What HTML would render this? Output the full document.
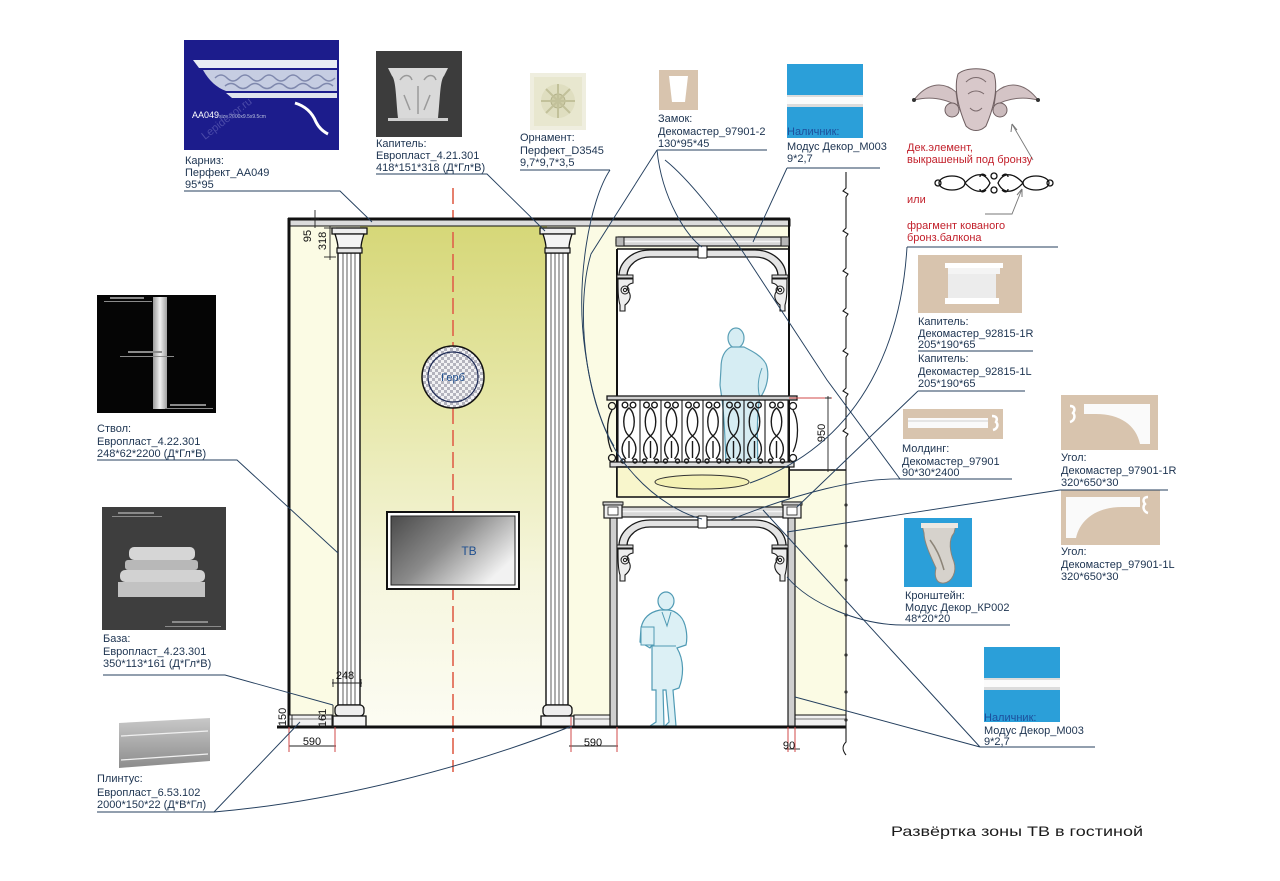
<!DOCTYPE html>
<html><head><meta charset="utf-8">
<style>
html,body{margin:0;padding:0;background:#fff;}
svg{display:block;}
.l{font-family:"Liberation Sans",Arial,sans-serif;font-size:11px;fill:#1c3350;}
.r{font-family:"Liberation Sans",Arial,sans-serif;font-size:11px;fill:#c21f2a;}
.d{font-family:"Liberation Sans",Arial,sans-serif;font-size:11px;fill:#111;}
.k{stroke:#1a1a1a;fill:none;}
.c{stroke:#243f5e;stroke-width:0.95;fill:none;}
</style></head>
<body>
<svg width="1280" height="881" viewBox="0 0 1280 881" xmlns="http://www.w3.org/2000/svg">
<defs>
 <linearGradient id="yg" x1="0" y1="0" x2="0" y2="1">
  <stop offset="0" stop-color="#d6d778"/>
  <stop offset="0.35" stop-color="#e6e7a8"/>
  <stop offset="0.7" stop-color="#f6f6de"/>
  <stop offset="1" stop-color="#fcfcf3"/>
 </linearGradient>
 <linearGradient id="tv" x1="0" y1="0" x2="1" y2="0.6">
  <stop offset="0" stop-color="#4a4a4a"/>
  <stop offset="0.5" stop-color="#8a8a8a"/>
  <stop offset="1" stop-color="#f2f2f2"/>
 </linearGradient>
 <linearGradient id="sh" x1="0" y1="0" x2="1" y2="0">
  <stop offset="0" stop-color="#9a9a9a"/>
  <stop offset="0.5" stop-color="#f0f0f0"/>
  <stop offset="1" stop-color="#a0a0a0"/>
 </linearGradient>
 <linearGradient id="pl" x1="0" y1="0" x2="0" y2="1">
  <stop offset="0" stop-color="#c8c8c8"/>
  <stop offset="1" stop-color="#8c8c8c"/>
 </linearGradient>
 <pattern id="chk" width="6" height="6" patternUnits="userSpaceOnUse">
  <rect width="6" height="6" fill="#f2f2f4"/>
  <rect width="3" height="3" fill="#b4b4be"/>
  <rect x="3" y="3" width="3" height="3" fill="#b4b4be"/>
 </pattern>
 <g id="col">
  <rect x="6" y="253" width="22" height="452" fill="#fff" stroke="#111" stroke-width="1.4"/>
  <line x1="11" y1="253" x2="11" y2="705" stroke="#333" stroke-width="0.8"/>
  <line x1="15" y1="253" x2="15" y2="705" stroke="#333" stroke-width="0.8"/>
  <line x1="19" y1="253" x2="19" y2="705" stroke="#333" stroke-width="0.8"/>
  <line x1="23" y1="253" x2="23" y2="705" stroke="#333" stroke-width="0.8"/>
  <rect x="0" y="228" width="35" height="6" fill="#eee" stroke="#111" stroke-width="1.3"/>
  <path d="M3,234 L32,234 C30,240 29,244 29,248 L6,248 C6,244 5,240 3,234 Z" fill="#f4f4f4" stroke="#111" stroke-width="1.3"/>
  <rect x="5" y="248" width="25" height="5" fill="#e6e6e6" stroke="#111" stroke-width="1.2"/>
  <rect x="3" y="705" width="29" height="11" rx="4" fill="#eee" stroke="#111" stroke-width="1.3"/>
  <rect x="1" y="716" width="33" height="11" fill="#f4f4f4" stroke="#111" stroke-width="1.3"/>
 </g>
 <g id="arch">
  <path d="M619,276 A31 26 0 0 1 650,250 L755,250 A31 26 0 0 1 786,276 L778,276 A23 19 0 0 0 755,257 L650,257 A23 19 0 0 0 627,276 Z" fill="#e4e4e4" stroke="#1a1a1a" stroke-width="1.3"/>
  <rect x="617" y="275" width="16" height="3" fill="#ddd" stroke="#1a1a1a" stroke-width="1"/>
  <rect x="772" y="275" width="16" height="3" fill="#ddd" stroke="#1a1a1a" stroke-width="1"/>
  <g transform="translate(617,277)">
   <path d="M1,2 L16,2 L16,6 C10,7 9,11 12,15 C15,20 12,25 8,28 L8,34 L3,34 L3,28 C1,22 1,12 1,2 Z" fill="#eee" stroke="#1a1a1a" stroke-width="1.1"/>
   <circle cx="8" cy="13" r="4" fill="none" stroke="#1a1a1a"/>
   <circle cx="8" cy="13" r="1.6" fill="none" stroke="#1a1a1a"/>
  </g>
  <g transform="translate(788,277) scale(-1,1)">
   <path d="M1,2 L16,2 L16,6 C10,7 9,11 12,15 C15,20 12,25 8,28 L8,34 L3,34 L3,28 C1,22 1,12 1,2 Z" fill="#eee" stroke="#1a1a1a" stroke-width="1.1"/>
   <circle cx="8" cy="13" r="4" fill="none" stroke="#1a1a1a"/>
   <circle cx="8" cy="13" r="1.6" fill="none" stroke="#1a1a1a"/>
  </g>
  <rect x="698" y="246" width="9" height="12" rx="1" fill="#fff" stroke="#1a1a1a" stroke-width="1.1"/>
 </g>
 <g id="bal" fill="none" stroke="#1a1a1a" stroke-width="1.4">
  <circle cx="-4" cy="405" r="2.8"/><circle cx="4" cy="405" r="2.8"/>
  <path d="M0,408 C-7,413 -7,430 0,436 C7,430 7,413 0,408 Z"/>
  <path d="M0,436 C-8,442 -9,452 -3,459 M0,436 C8,442 9,452 3,459 M0,441 L0,458"/>
  <circle cx="-6" cy="461" r="2"/><circle cx="6" cy="461" r="2"/>
 </g>
</defs>

<rect width="1280" height="881" fill="#fff"/>

<!-- WALL BACKGROUNDS -->
<rect x="289" y="219" width="328" height="508" fill="#fbfbe4"/>
<rect x="360" y="226" width="187" height="501" fill="url(#yg)"/>
<rect x="612" y="226" width="178" height="23" fill="#fbfbe4"/>
<rect x="617" y="249" width="171" height="218" fill="#fff"/>
<rect x="617" y="497" width="171" height="10" fill="#fbfbe4"/>
<rect x="788" y="470" width="58" height="257" fill="#fbfbe4"/>
<rect x="618" y="518" width="170" height="209" fill="#fff"/>

<line x1="453" y1="188" x2="453" y2="772" stroke="#e0604a" stroke-width="1.6" stroke-dasharray="16 6"/>

<rect x="289" y="219" width="501" height="7" fill="#dcdcdc" stroke="#111" stroke-width="1"/>
<line x1="288" y1="219" x2="790" y2="219" stroke="#111" stroke-width="3"/>
<line x1="289" y1="218" x2="289" y2="728" stroke="#111" stroke-width="3"/>

<use href="#col" transform="translate(332,0)"/>
<use href="#col" transform="translate(540,0)"/>

<circle cx="453" cy="377" r="31" fill="url(#chk)" stroke="#111" stroke-width="1.5"/>
<circle cx="453" cy="377" r="25" fill="none" stroke="#1d2a55" stroke-width="1.2"/>
<text x="453" y="381" text-anchor="middle" class="l" style="fill:#1f4f8f">Герб</text>

<rect x="387" y="512" width="132" height="77" fill="#fff" stroke="#111" stroke-width="2"/>
<rect x="391" y="516" width="124" height="69" fill="url(#tv)" stroke="#222" stroke-width="1"/>
<text x="469" y="555" text-anchor="middle" class="l" style="fill:#1f4f8f;font-size:12px">ТВ</text>

<rect x="289" y="715" width="43" height="12" fill="#f0f0f0" stroke="#111" stroke-width="1"/>
<line x1="289" y1="719" x2="332" y2="719" stroke="#555" stroke-width="0.7"/>
<rect x="574" y="715" width="36" height="12" fill="#f0f0f0" stroke="#111" stroke-width="1"/>
<line x1="574" y1="719" x2="610" y2="719" stroke="#555" stroke-width="0.7"/>
<rect x="795" y="715" width="51" height="12" fill="#f0f0f0" stroke="#111" stroke-width="1"/>
<line x1="795" y1="719" x2="846" y2="719" stroke="#555" stroke-width="0.7"/>

<!-- BALCONY -->
<line x1="789" y1="219" x2="789" y2="497" stroke="#111" stroke-width="2"/>
<line x1="617" y1="249" x2="617" y2="497" stroke="#111" stroke-width="2"/>
<line x1="617" y1="249" x2="789" y2="249" stroke="#111" stroke-width="1.5"/>
<rect x="616" y="237" width="173" height="9" rx="2" fill="#d6d6d6" stroke="#1a1a1a" stroke-width="1.2"/>
<line x1="620" y1="241.5" x2="785" y2="241.5" stroke="#f4f4f4" stroke-width="1.5"/>
<rect x="616" y="237" width="8" height="9" fill="#b8b8b8" stroke="#1a1a1a" stroke-width="1"/>
<rect x="781" y="237" width="8" height="9" fill="#b8b8b8" stroke="#1a1a1a" stroke-width="1"/>
<use href="#arch"/>

<ellipse cx="736" cy="338" rx="8" ry="10" fill="#d6edf3" stroke="#5a9fb6" stroke-width="1.2"/>
<path d="M731,347 C725,350 721,356 721,368 L720,385 C721,395 724,400 726,467 L758,467 C757,430 757,410 760,398 C767,388 770,375 766,364 C762,356 752,351 744,347 Z" fill="#d6edf3" stroke="#5a9fb6" stroke-width="1.2"/>
<path d="M762,368 C758,378 757,388 760,398" fill="none" stroke="#5a9fb6" stroke-width="1"/>

<rect x="607" y="396" width="190" height="4" fill="#cfcfcf" stroke="#1a1a1a" stroke-width="1.3"/>
<rect x="610" y="462" width="184" height="5" fill="#dcdcdc" stroke="#1a1a1a" stroke-width="1.2"/>
<g stroke="#1a1a1a" stroke-width="1.1">
 <line x1="618" y1="400" x2="618" y2="462"/><line x1="640" y1="400" x2="640" y2="462"/>
 <line x1="661" y1="400" x2="661" y2="462"/><line x1="682" y1="400" x2="682" y2="462"/>
 <line x1="703" y1="400" x2="703" y2="462"/><line x1="723" y1="400" x2="723" y2="462"/>
 <line x1="744" y1="400" x2="744" y2="462"/><line x1="765" y1="400" x2="765" y2="462"/>
 <line x1="788" y1="400" x2="788" y2="462"/>
</g>
<use href="#bal" transform="translate(629,0)"/>
<use href="#bal" transform="translate(650.5,0)"/>
<use href="#bal" transform="translate(671.5,0)"/>
<use href="#bal" transform="translate(692.5,0)"/>
<use href="#bal" transform="translate(713,0)"/>
<use href="#bal" transform="translate(733.5,0)"/>
<use href="#bal" transform="translate(754.5,0)"/>
<use href="#bal" transform="translate(776.5,0)"/>
<g fill="none" stroke="#1a1a1a" stroke-width="1.3">
 <circle cx="612" cy="406" r="3.5"/><path d="M612,410 C606,420 606,440 612,452"/><circle cx="612" cy="458" r="3.5"/>
 <circle cx="793" cy="406" r="3.5"/><path d="M793,410 C799,420 799,440 793,452"/><circle cx="793" cy="458" r="3.5"/>
</g>

<rect x="617" y="467" width="172" height="30" fill="#f8f6cc" stroke="#1a1a1a" stroke-width="1.6"/>
<ellipse cx="702" cy="482" rx="47" ry="7" fill="#f4f1b4" stroke="#333" stroke-width="1"/>
<line x1="789" y1="470" x2="846" y2="470" stroke="#111" stroke-width="1.6"/>

<line x1="789" y1="398" x2="832" y2="398" stroke="#d24a4a" stroke-width="1"/>
<line x1="828" y1="396" x2="828" y2="472" stroke="#222" stroke-width="0.9"/>
<line x1="825" y1="398" x2="831" y2="398" stroke="#222"/>
<line x1="825" y1="470" x2="831" y2="470" stroke="#222"/>
<text transform="translate(825,433) rotate(-90)" text-anchor="middle" class="d">950</text>

<!-- LOWER DOORWAY -->
<rect x="610" y="517" width="7" height="210" fill="#cfcfcf" stroke="#1a1a1a" stroke-width="1.2"/>
<rect x="788" y="517" width="7" height="210" fill="#cfcfcf" stroke="#1a1a1a" stroke-width="1.2"/>
<rect x="617" y="507" width="171" height="10" fill="#d8d8d8" stroke="#1a1a1a" stroke-width="1.2"/>
<line x1="620" y1="511.5" x2="785" y2="511.5" stroke="#f4f4f4" stroke-width="1.5"/>
<rect x="604" y="502" width="18" height="16" fill="#efefef" stroke="#1a1a1a" stroke-width="1.2"/>
<rect x="603" y="502" width="20" height="3" fill="#d0d0d0" stroke="#1a1a1a" stroke-width="1"/>
<rect x="608" y="507" width="10" height="8" fill="#fff" stroke="#1a1a1a" stroke-width="0.8"/>
<rect x="783" y="502" width="18" height="16" fill="#efefef" stroke="#1a1a1a" stroke-width="1.2"/>
<rect x="782" y="502" width="20" height="3" fill="#d0d0d0" stroke="#1a1a1a" stroke-width="1"/>
<rect x="787" y="507" width="10" height="8" fill="#fff" stroke="#1a1a1a" stroke-width="0.8"/>
<use href="#arch" transform="translate(0,270)"/>

<ellipse cx="666" cy="601" rx="8" ry="9" fill="#dcf0f5" stroke="#4f9ab4" stroke-width="1.2"/>
<path d="M660,610 C650,612 643,618 641,628 L640,642 L650,648 L652,645 L652,690 L656,690 L656,722 L650,726 L664,726 L663,690 L666,690 L669,722 L665,726 L676,726 L673,690 L679,688 C684,675 684,660 677,648 L686,645 C688,636 686,622 680,616 C676,612 672,610 668,610 Z" fill="#dcf0f5" stroke="#4f9ab4" stroke-width="1.2"/>
<rect x="641" y="627" width="13" height="18" fill="#dcf0f5" stroke="#4f9ab4" stroke-width="1"/>
<path d="M662,612 L667,626 L671,612 M652,646 L676,646" fill="none" stroke="#4f9ab4" stroke-width="1"/>

<line x1="277" y1="727" x2="846" y2="727" stroke="#111" stroke-width="3"/>

<path d="M846,172 L846,188 l-3,3 l5,3 l-2,3 L846,228 l-3,3 l5,3 l-2,3 L846,268 l-3,3 l5,3 l-2,3 L846,308 l-3,3 l5,3 l-2,3 L846,348 l-3,3 l5,3 l-2,3 L846,388 l-3,3 l5,3 l-2,3 L846,428 l-3,3 l5,3 l-2,3 L846,742 C842,746 842,750 846,755" fill="none" stroke="#1a1a1a" stroke-width="1.1"/>
<g fill="#333"><circle cx="846" cy="505" r="1.6"/><circle cx="846" cy="546" r="1.6"/><circle cx="846" cy="580" r="1.6"/><circle cx="846" cy="615" r="1.6"/><circle cx="846" cy="655" r="1.6"/><circle cx="846" cy="692" r="1.6"/><circle cx="846" cy="720" r="1.6"/></g>

<!-- DIMENSIONS -->
<g stroke="#222" stroke-width="0.9" fill="none">
 <line x1="315" y1="210" x2="315" y2="228"/><line x1="311" y1="219" x2="319" y2="219"/>
 <line x1="330" y1="226" x2="330" y2="260"/><line x1="324" y1="228" x2="336" y2="228"/><line x1="324" y1="257" x2="336" y2="257"/>
 <line x1="332" y1="683" x2="362" y2="683"/><line x1="333" y1="679" x2="333" y2="687"/><line x1="361" y1="679" x2="361" y2="687"/>
 <line x1="292" y1="715" x2="292" y2="727"/>
 <line x1="333" y1="705" x2="333" y2="727"/>
 <line x1="289" y1="746" x2="336" y2="746"/>
 <line x1="569" y1="746" x2="618" y2="746"/>
 <line x1="785" y1="749" x2="800" y2="749"/>
</g>
<g stroke="#d24a4a" stroke-width="1">
 <line x1="289" y1="727" x2="289" y2="752"/><line x1="335" y1="727" x2="335" y2="752"/>
 <line x1="571" y1="717" x2="571" y2="752"/><line x1="617" y1="727" x2="617" y2="752"/>
 <line x1="788" y1="727" x2="788" y2="752"/><line x1="795" y1="727" x2="795" y2="752"/>
</g>
<text transform="translate(311,236) rotate(-90)" text-anchor="middle" class="d">95</text>
<text transform="translate(326,241) rotate(-90)" text-anchor="middle" class="d">318</text>
<text x="345" y="679" text-anchor="middle" class="d">248</text>
<text transform="translate(286,717) rotate(-90)" text-anchor="middle" class="d">150</text>
<text transform="translate(326,718) rotate(-90)" text-anchor="middle" class="d">161</text>
<text x="312" y="745" text-anchor="middle" class="d">590</text>
<text x="593" y="746" text-anchor="middle" class="d">590</text>
<text x="789" y="749" text-anchor="middle" class="d">90</text>

<!-- PRODUCT IMAGES -->
<rect x="184" y="40" width="155" height="110" fill="#1c1c8c"/>
<polygon points="193,60 337,60 337,68 199,68" fill="#e8ecf4"/>
<path d="M203,70 L337,70 L337,91 L226,91 Q212,86 203,70 Z" fill="#c6cde2"/>
<path d="M215,78 q6,-6 12,0 t12,0 t12,0 t12,0 t12,0 t12,0 t12,0 t12,0 t12,0 t12,0 M225,86 q6,-5 12,0 t12,0 t12,0 t12,0 t12,0 t12,0 t12,0 t12,0 t12,0" fill="none" stroke="#7f88ad" stroke-width="1.5"/>
<polygon points="226,93 337,93 337,98 232,98" fill="#e0e4ee"/>
<path d="M295,103 C305,106 312,112 316,122 C319,128 324,132 328,134" fill="none" stroke="#fff" stroke-width="3"/>
<text x="192" y="118" style="font-family:'Liberation Sans',sans-serif;font-size:9px;fill:#fff">AA049</text>
<text x="219" y="118" style="font-family:'Liberation Sans',sans-serif;font-size:5px;fill:#b8c0dc">size 2000x9.5x9.5cm</text>
<text transform="translate(205,140) rotate(-38)" style="font-family:'Liberation Sans',sans-serif;font-size:11px;fill:#4a4aa8">Lepidecor.ru</text>

<rect x="376" y="51" width="86" height="86" fill="#3c3c3c"/>
<path d="M388,68 L448,68 L444,76 C440,80 440,100 438,118 L398,118 C396,100 396,80 392,76 Z" fill="#d9d9d9"/>
<path d="M400,80 c4,-6 10,-6 12,0 M424,80 c4,-6 10,-6 12,0 M404,95 l6,15 M430,95 l-6,15 M418,86 l0,28" fill="none" stroke="#9a9a9a" stroke-width="1.5"/>
<rect x="388" y="118" width="60" height="3" fill="#cfcfcf"/>

<rect x="530" y="73" width="56" height="57" fill="#efeedf"/>
<rect x="534" y="77" width="48" height="49" fill="#e8e7cf"/>
<circle cx="558" cy="101" r="17" fill="#dfdec0"/>
<circle cx="558" cy="101" r="7" fill="#cdcca6" stroke="#b2b18a"/>
<path d="M558,84 l0,34 M541,101 l34,0 M546,89 l24,24 M570,89 l-24,24" stroke="#c2c19a" stroke-width="2"/>

<rect x="659" y="70" width="39" height="40" fill="#d8c4ae"/>
<path d="M669,76 L688,76 L685,102 L672,102 Z" fill="#fff"/>

<rect x="787" y="64" width="76" height="74" fill="#2b9fd9"/>
<rect x="787" y="95" width="76" height="12" fill="#dcdcdc"/>
<rect x="787" y="97" width="76" height="7" fill="#fbfbfb"/>

<g transform="translate(976,100)">
 <path d="M-20,-8 C-34,-20 -50,-16 -62,0 C-46,-4 -32,-2 -18,6 Z" fill="#d4c4c6" stroke="#7a6a6c"/>
 <path d="M20,-8 C34,-20 50,-16 62,0 C46,-4 32,-2 18,6 Z" fill="#d4c4c6" stroke="#7a6a6c"/>
 <path d="M-18,-26 C-10,-33 10,-33 18,-26 C23,-10 16,12 10,26 C4,32 -4,32 -10,26 C-16,12 -23,-10 -18,-26 Z" fill="#d8c8ca" stroke="#6e5e60"/>
 <circle cx="-24" cy="10" r="7" fill="#cbbbbd" stroke="#6e5e60"/>
 <circle cx="24" cy="10" r="7" fill="#cbbbbd" stroke="#6e5e60"/>
 <path d="M-10,-18 C-4,-24 4,-24 10,-18 M-8,-6 C-3,-10 3,-10 8,-6 M-6,8 C-2,12 2,12 6,8" fill="none" stroke="#7a6a6c"/>
 <circle cx="-62" cy="0" r="2" fill="#333"/><circle cx="62" cy="0" r="2" fill="#333"/>
</g>
<path d="M1033,160 L1012,124" fill="none" stroke="#777" stroke-width="0.9"/>
<path d="M1012,124 L1011,132 M1012,124 L1017,130" fill="none" stroke="#777" stroke-width="1"/>

<g fill="none" stroke="#111" stroke-width="1.3">
 <ellipse cx="952" cy="183" rx="13" ry="7"/><ellipse cx="1036" cy="183" rx="13" ry="7"/>
 <circle cx="938" cy="183" r="3"/><circle cx="1050" cy="183" r="3"/>
 <path d="M965,183 C975,172 985,172 990,183 C985,194 975,194 965,183 Z"/>
 <path d="M1023,183 C1013,172 1003,172 998,183 C1003,194 1013,194 1023,183 Z"/>
 <circle cx="994" cy="176" r="3"/><circle cx="994" cy="190" r="3"/>
 <path d="M986,176 c-3,-3 -6,-2 -6,1 M1002,176 c3,-3 6,-2 6,1 M986,190 c-3,3 -6,2 -6,-1 M1002,190 c3,3 6,2 6,-1"/>
</g>
<path d="M985,214 L1012,214 L1022,189" fill="none" stroke="#777" stroke-width="0.9"/>
<path d="M1022,189 L1017,195 M1022,189 L1022,197" fill="none" stroke="#777" stroke-width="1"/>

<rect x="918" y="255" width="104" height="58" fill="#d8c4ae"/>
<rect x="945" y="263" width="58" height="5" fill="#fff"/>
<rect x="948" y="268" width="52" height="6" fill="#f4f4f4"/>
<rect x="948" y="274" width="48" height="24" fill="#ececec"/>
<rect x="945" y="298" width="54" height="6" fill="#fff"/>

<rect x="903" y="409" width="100" height="30" fill="#d8c4ae"/>
<rect x="908" y="418" width="80" height="10" fill="#fafafa"/>
<line x1="908" y1="421" x2="988" y2="421" stroke="#d0d0d0"/>
<path d="M992,416 c4,0 6,2 4,6 c3,3 1,7 -3,8" fill="none" stroke="#fff" stroke-width="2.5"/>

<rect x="1061" y="395" width="97" height="55" fill="#d8c4ae"/>
<path d="M1084,404 L1150,404 L1150,444 L1140,444 C1136,425 1120,414 1096,414 L1084,414 Z" fill="#fafafa"/>
<path d="M1070,406 c4,0 6,3 3,7 c3,3 1,8 -3,9" fill="none" stroke="#fff" stroke-width="2.5"/>

<rect x="1061" y="490" width="99" height="55" fill="#d8c4ae"/>
<path d="M1140,497 L1066,497 L1066,538 L1076,538 C1080,520 1096,507 1122,507 L1140,507 Z" fill="#fafafa"/>
<path d="M1148,497 c-4,0 -6,3 -3,7 c-3,3 -1,8 3,9" fill="none" stroke="#fff" stroke-width="2.5"/>

<rect x="904" y="518" width="68" height="69" fill="#2b9fd9"/>
<path d="M922,525 L956,525 L954,533 C948,540 950,552 954,562 C957,572 952,582 944,583 C936,584 934,576 936,568 C930,555 924,542 924,533 Z" fill="#d6d2cc" stroke="#8c8478"/>
<rect x="921" y="523" width="37" height="5" fill="#ece8e2"/>
<path d="M930,540 c6,8 10,16 14,30" fill="none" stroke="#8c8478" stroke-width="1.5"/>

<rect x="984" y="647" width="76" height="75" fill="#2b9fd9"/>
<rect x="984" y="678" width="76" height="12" fill="#dcdcdc"/>
<rect x="984" y="680" width="76" height="7" fill="#fbfbfb"/>

<rect x="97" y="295" width="119" height="118" fill="#050505"/>
<rect x="153" y="297" width="14" height="112" fill="url(#sh)"/>
<g fill="#8a8a8a"><rect x="110" y="297" width="34" height="2"/><rect x="104" y="301" width="48" height="1"/><rect x="128" y="351" width="34" height="2"/><rect x="120" y="356" width="54" height="1"/><rect x="170" y="404" width="36" height="2"/><rect x="165" y="408" width="48" height="1"/></g>

<rect x="102" y="507" width="124" height="123" fill="#3e3e3e"/>
<rect x="129" y="547" width="66" height="13" rx="5" fill="#d6d6d6"/>
<rect x="125" y="560" width="73" height="10" rx="3" fill="#b8b8b8"/>
<rect x="120" y="570" width="85" height="12" rx="5" fill="#d2d2d2"/>
<rect x="118" y="582" width="87" height="15" fill="#c2c2c2"/>
<g fill="#8a8a8a"><rect x="118" y="512" width="36" height="2"/><rect x="112" y="516" width="50" height="1"/><rect x="172" y="621" width="36" height="2"/><rect x="165" y="626" width="56" height="1"/></g>

<path d="M119,723 L210,718 L210,761 L119,768 Z" fill="url(#pl)"/>
<path d="M121,736 L208,731 M121,760 L208,754" stroke="#f0f0f0" stroke-width="1.2"/>

<!-- CONNECTORS -->
<g class="c">
 <path d="M184,191 L340,191 L372,222"/>
 <path d="M376,174 L487,174 L545,231"/>
 <path d="M520,170 L610,170"/>
 <path d="M610,170 C590,200 575,280 585,350 C592,400 604,430 614,446"/>
 <path d="M657,150 L767,150"/>
 <path d="M657,150 C662,200 688,238 702,247"/>
 <path d="M657,150 L591,254 C574,310 585,420 630,470 C655,500 685,515 702,519"/>
 <path d="M787,168 L880,168 M787,168 L753,242"/>
 <path d="M907,247 L1058,247"/>
 <path d="M907,247 C902,330 870,440 750,483"/>
 <path d="M918,351 L1033,351"/>
 <path d="M918,391 L1025,391 M918,391 L797,507"/>
 <path d="M900,479 L1012,479"/>
 <path d="M900,479 L827,380 L743,252 C720,220 690,180 665,160"/>
 <path d="M900,479 C860,478 800,492 730,520"/>
 <path d="M1060,490 L1168,490 M1060,490 L787,532"/>
 <path d="M903,625 L1010,625 M903,625 C860,625 810,604 787,577"/>
 <path d="M980,747 L1095,747 M980,747 L763,510 M980,747 L795,697"/>
 <path d="M97,460 L237,460 L338,553"/>
 <path d="M103,675 L225,675 L333,705"/>
 <path d="M97,812 L214,812 L300,722 M214,812 C330,802 460,770 572,726"/>
</g>

<!-- LABELS -->
<text class="l"><tspan x="185" y="164">Карниз:</tspan><tspan x="185" y="176">Перфект_АА049</tspan><tspan x="185" y="188">95*95</tspan></text>
<text class="l"><tspan x="376" y="147">Капитель:</tspan><tspan x="376" y="159">Европласт_4.21.301</tspan><tspan x="376" y="171">418*151*318 (Д*Гл*В)</tspan></text>
<text class="l"><tspan x="520" y="141">Орнамент:</tspan><tspan x="520" y="154">Перфект_D3545</tspan><tspan x="520" y="166">9,7*9,7*3,5</tspan></text>
<text class="l"><tspan x="658" y="122">Замок:</tspan><tspan x="658" y="135">Декомастер_97901-2</tspan><tspan x="658" y="147">130*95*45</tspan></text>
<text class="l"><tspan x="787" y="135" style="fill:#1d4f9c">Наличник:</tspan><tspan x="787" y="150">Модус Декор_М003</tspan><tspan x="787" y="162">9*2,7</tspan></text>
<text class="r"><tspan x="907" y="151">Дек.элемент,</tspan><tspan x="907" y="163">выкрашеный под бронзу</tspan></text>
<text class="r" x="907" y="203">или</text>
<text class="r"><tspan x="907" y="229">фрагмент кованого</tspan><tspan x="907" y="241">бронз.балкона</tspan></text>
<text class="l"><tspan x="918" y="325">Капитель:</tspan><tspan x="918" y="337">Декомастер_92815-1R</tspan><tspan x="918" y="348">205*190*65</tspan></text>
<text class="l"><tspan x="918" y="362">Капитель:</tspan><tspan x="918" y="375">Декомастер_92815-1L</tspan><tspan x="918" y="387">205*190*65</tspan></text>
<text class="l"><tspan x="902" y="452">Молдинг:</tspan><tspan x="902" y="465">Декомастер_97901</tspan><tspan x="902" y="476">90*30*2400</tspan></text>
<text class="l"><tspan x="1061" y="461">Угол:</tspan><tspan x="1061" y="474">Декомастер_97901-1R</tspan><tspan x="1061" y="486">320*650*30</tspan></text>
<text class="l"><tspan x="1061" y="555">Угол:</tspan><tspan x="1061" y="568">Декомастер_97901-1L</tspan><tspan x="1061" y="580">320*650*30</tspan></text>
<text class="l"><tspan x="905" y="599">Кронштейн:</tspan><tspan x="905" y="611">Модус Декор_КР002</tspan><tspan x="905" y="622">48*20*20</tspan></text>
<text class="l"><tspan x="984" y="721" style="fill:#1d4f9c">Наличник:</tspan><tspan x="984" y="734">Модус Декор_М003</tspan><tspan x="984" y="745">9*2,7</tspan></text>
<text class="l"><tspan x="97" y="432">Ствол:</tspan><tspan x="97" y="445">Европласт_4.22.301</tspan><tspan x="97" y="457">248*62*2200 (Д*Гл*В)</tspan></text>
<text class="l"><tspan x="103" y="642">База:</tspan><tspan x="103" y="655">Европласт_4.23.301</tspan><tspan x="103" y="667">350*113*161 (Д*Гл*В)</tspan></text>
<text class="l"><tspan x="97" y="782">Плинтус:</tspan><tspan x="97" y="796">Европласт_6.53.102</tspan><tspan x="97" y="808">2000*150*22 (Д*В*Гл)</tspan></text>

<text x="891" y="836" textLength="252" lengthAdjust="spacingAndGlyphs" style="font-family:'Liberation Sans',Arial,sans-serif;font-size:14px;fill:#1a1a1a">Развёртка зоны ТВ в гостиной</text>
</svg>
</body></html>
